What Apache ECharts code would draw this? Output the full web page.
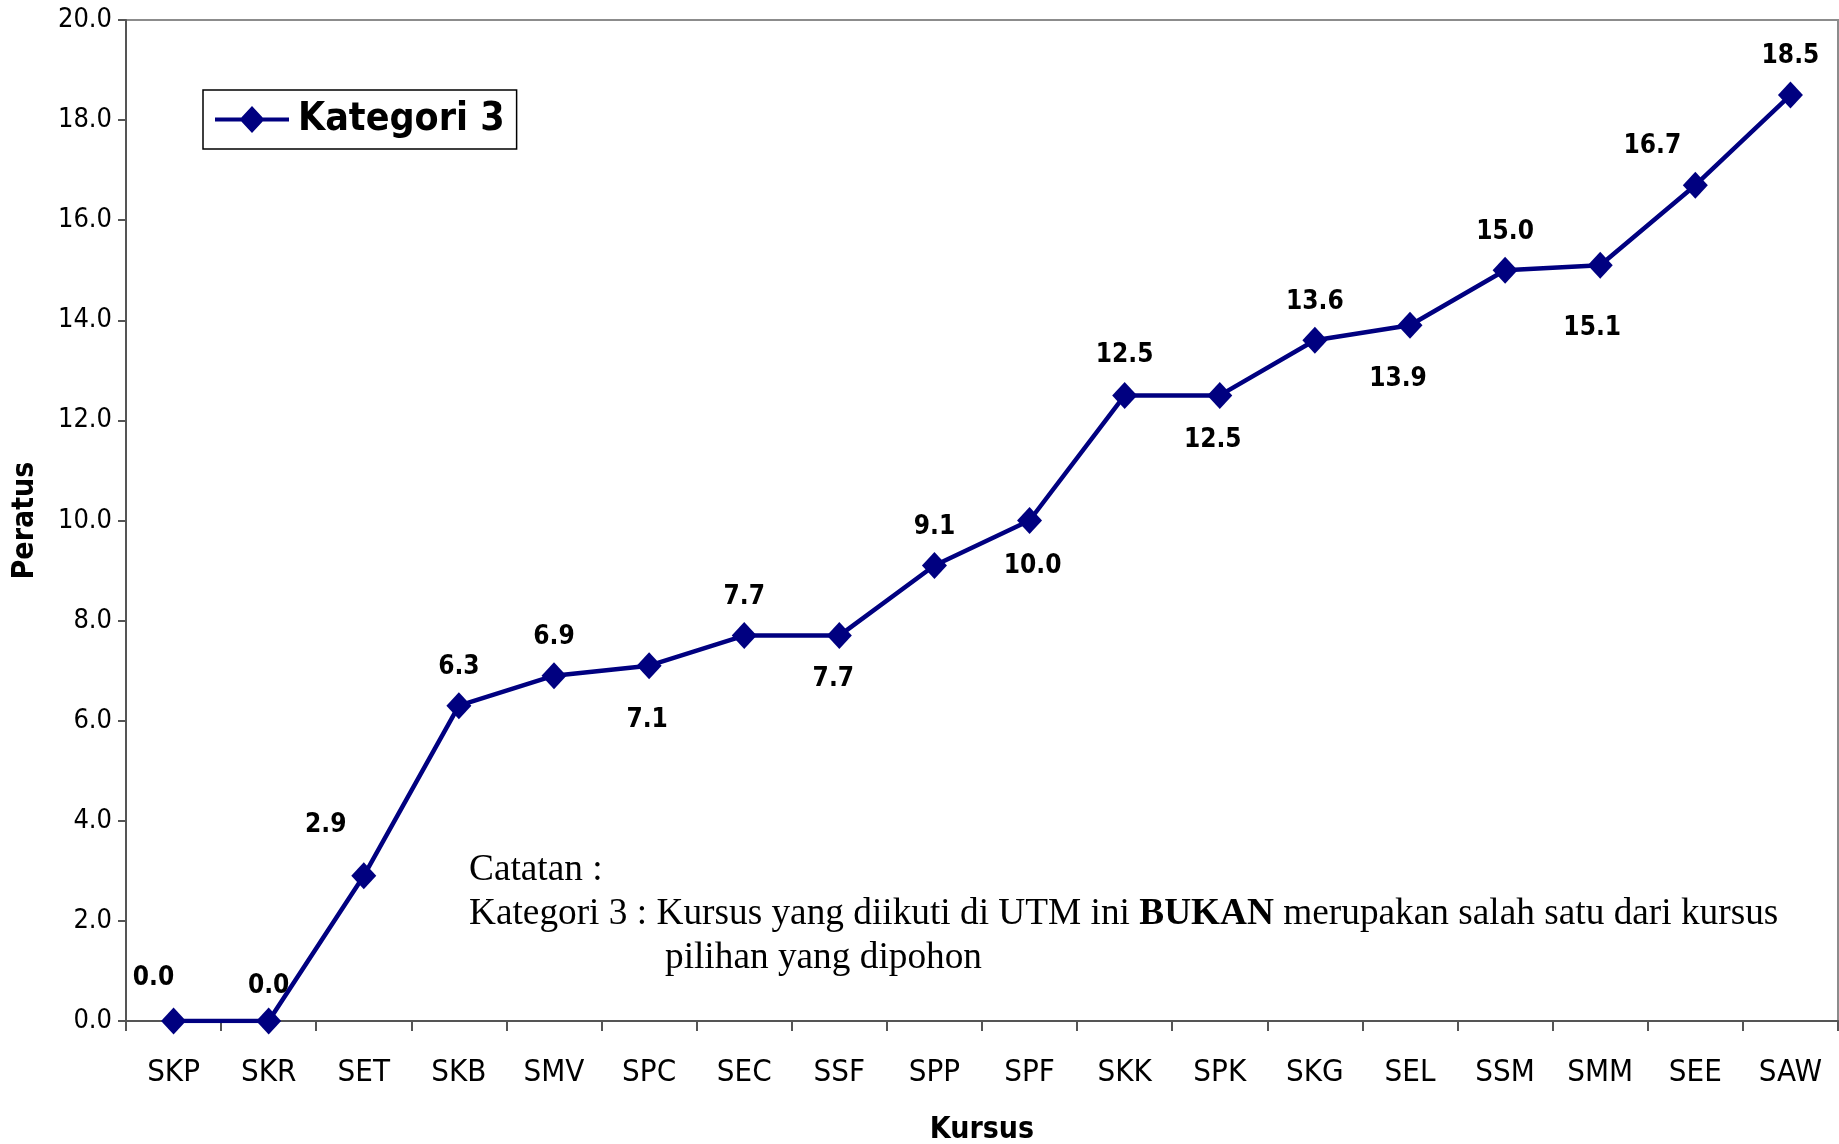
<!DOCTYPE html>
<html>
<head>
<meta charset="utf-8">
<script src="https://cdn.jsdelivr.net/npm/echarts@6/dist/echarts.min.js"></script>
<style>
  html, body { margin: 0; padding: 0; background: #fff; }
  #chart { width: 1839px; height: 1144px; }
</style>
</head>
<body>
<div id="chart"></div>
<script>
// Courses on the category axis
const kursus = ['SKP', 'SKR', 'SET', 'SKB', 'SMV', 'SPC', 'SEC', 'SSF', 'SPP',
                'SPF', 'SKK', 'SPK', 'SKG', 'SEL', 'SSM', 'SMM', 'SEE', 'SAW'];
// Percentage for "Kategori 3"
const kategori3 = [0.0, 0.0, 2.9, 6.3, 6.9, 7.1, 7.7, 7.7, 9.1,
                   10.0, 12.5, 12.5, 13.6, 13.9, 15.0, 15.1, 16.7, 18.5];
// Value axis ticks
const yMin = 0, yMax = 20, yStep = 2;

// Where each value label sits relative to its marker: [position, dx, dy]
const labelPlace = [
  ['top', -20, -4], ['top', 0, 4], ['top', -38, -12], ['top', 0, 0], ['top', 0, 0],
  ['bottom', -2, 16], ['top', 0, 0], ['bottom', -6, 5], ['top', 0, 0],
  ['bottom', 3, 7], ['top', 0, -2], ['bottom', -7, 6], ['top', 0, 0],
  ['bottom', -12, 15], ['top', 0, 0], ['bottom', -8, 25], ['top', -43, 0], ['top', 0, 0]
];

const NAVY = '#000080';
const seriesData = kategori3.map((v, i) => ({
  value: v,
  label: {
    position: labelPlace[i][0],
    offset: [labelPlace[i][1], labelPlace[i][2]]
  }
}));

// Legend key: a line with a diamond on it
const legendKey = 'path://M0,11.5L74,11.5L74,15.5L0,15.5Z M24.5,13.5L37,0L49.5,13.5L37,27Z';

const chart = echarts.init(document.getElementById('chart'));
chart.setOption({
  animation: false,
  backgroundColor: '#fff',
  grid: {
    left: 126, right: 1, top: 20, bottom: 123,
    containLabel: false,
    outerBoundsMode: 'none',
    show: true, borderColor: '#8c8c8c', borderWidth: 2, backgroundColor: 'transparent'
  },
  legend: {
    left: 203, top: 90,
    orient: 'horizontal',
    padding: [10, 12, 10, 12],
    borderColor: '#000', borderWidth: 1.5, borderRadius: 0,
    backgroundColor: '#fff',
    itemWidth: 74, itemHeight: 27, itemGap: 0,
    textStyle: { fontFamily: 'DejaVu Sans Condensed', fontWeight: 'bold', fontSize: 39, color: '#000', padding: [0, 0, 0, 4] },
    data: [{ name: 'Kategori 3', icon: legendKey }]
  },
  xAxis: {
    type: 'category',
    data: kursus,
    boundaryGap: true,
    name: 'Kursus',
    nameLocation: 'middle',
    nameGap: 94,
    nameTextStyle: { fontFamily: 'DejaVu Sans Condensed', fontWeight: 'bold', fontSize: 30, color: '#000' },
    axisLine: { lineStyle: { color: '#555', width: 2 } },
    axisTick: { show: true, length: 10, alignWithLabel: false, lineStyle: { color: '#555', width: 2 } },
    axisLabel: { margin: 36, fontFamily: 'DejaVu Sans Condensed', fontSize: 31, color: '#000' },
    splitLine: { show: false }
  },
  yAxis: {
    type: 'value',
    min: yMin, max: yMax, interval: yStep,
    name: 'Peratus',
    nameLocation: 'middle',
    nameRotate: 90,
    nameGap: 86,
    nameTextStyle: { fontFamily: 'DejaVu Sans Condensed', fontWeight: 'bold', fontSize: 30, color: '#000' },
    axisLine: { show: true, lineStyle: { color: '#555', width: 2 } },
    axisTick: { show: true, length: 8, lineStyle: { color: '#555', width: 2 } },
    axisLabel: {
      margin: 14,
      fontFamily: 'DejaVu Sans Condensed', fontSize: 27, color: '#000',
      formatter: v => v.toFixed(1)
    },
    splitLine: { show: false }
  },
  series: [{
    name: 'Kategori 3',
    type: 'line',
    data: seriesData,
    symbol: 'diamond',
    symbolSize: [25, 27],
    itemStyle: { color: NAVY },
    lineStyle: { color: NAVY, width: 4.5 },
    label: {
      show: true,
      distance: 12,
      fontFamily: 'DejaVu Sans Condensed', fontWeight: 'bold', fontSize: 26, color: '#000',
      formatter: p => p.value.toFixed(1)
    },
    z: 3
  }],
  graphic: [{
    type: 'text',
    left: 469, top: 852,
    style: {
      text: 'Catatan :',
      font: '37.3px "Liberation Serif"',
      fill: '#000'
    }
  }, {
    type: 'text',
    left: 469, top: 896,
    style: {
      text: '{n|Kategori 3 : Kursus yang diikuti di UTM ini }{b|BUKAN}{n| merupakan salah satu dari kursus}',
      rich: {
        n: { font: '37.3px "Liberation Serif"', fill: '#000' },
        b: { font: 'bold 37.3px "Liberation Serif"', fill: '#000' }
      }
    }
  }, {
    type: 'text',
    left: 665, top: 940,
    style: {
      text: 'pilihan yang dipohon',
      font: '37.3px "Liberation Serif"',
      fill: '#000'
    }
  }]
});
</script>
</body>
</html>
